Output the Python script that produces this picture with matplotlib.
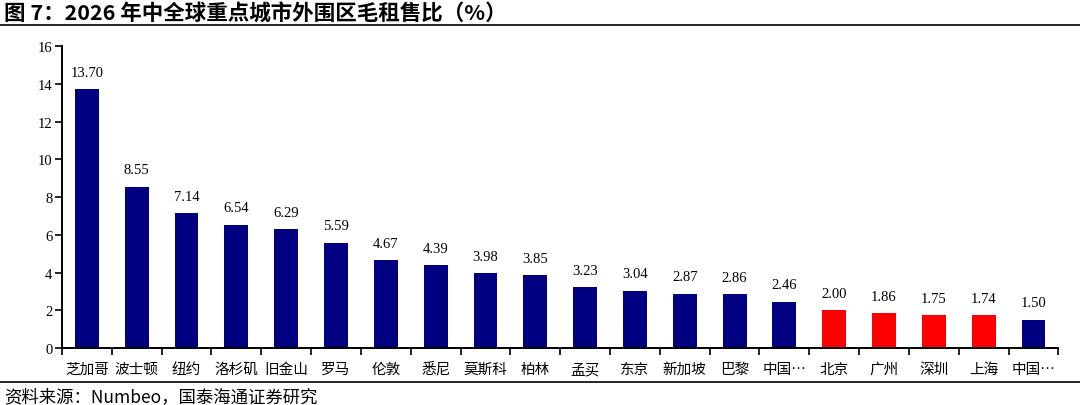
import matplotlib
matplotlib.use("Agg")
import matplotlib.pyplot as plt
from matplotlib.lines import Line2D
import numpy as np

cities = ["芝加哥", "波士顿", "纽约", "洛杉矶", "旧金山", "罗马", "伦敦", "悉尼", "莫斯科", "柏林",
          "孟买", "东京", "新加坡", "巴黎", "中国…", "北京", "广州", "深圳", "上海", "中国…"]
ratios = [13.70, 8.55, 7.14, 6.54, 6.29, 5.59, 4.67, 4.39, 3.98, 3.85,
          3.23, 3.04, 2.87, 2.86, 2.46, 2.00, 1.86, 1.75, 1.74, 1.50]
highlight = ["北京", "广州", "深圳", "上海"]

NAVY = "#000080"
RED = "#FF0000"
CJK = ["Noto Sans CJK SC", "DejaVu Sans"]
SERIF = ["Liberation Serif", "Noto Sans CJK SC"]

fig = plt.figure(figsize=(10.8, 4.06), dpi=100)
ax = fig.add_axes([0.0574, 0.1404, 0.9226, 0.7436])

x = np.arange(len(cities))
colors = [RED if c in highlight else NAVY for c in cities]
ax.bar(x, ratios, width=0.48, color=colors, zorder=2)

for xi, v in zip(x, ratios):
    ax.text(xi, v + 0.55, f"{v:.2f}", ha="center", va="bottom",
            fontsize=10.5, family=SERIF)

ax.set_xlim(-0.5, len(cities) - 0.5)
ax.set_ylim(0, 16)
ax.set_yticks(range(0, 17, 2))
ax.set_yticklabels([str(t) for t in range(0, 17, 2)], family=SERIF, fontsize=10.5)

# category labels centred, tick marks on boundaries
ax.set_xticks(np.arange(-0.5, len(cities), 1.0))
ax.set_xticklabels([])
ax.tick_params(axis="x", direction="out", length=5, width=1.2)
ax.tick_params(axis="y", direction="out", length=5, width=1.2, pad=2)
for xi, c in zip(x, cities):
    ax.text(xi, -0.75, c, ha="center", va="top", fontsize=10.5, family=CJK,
            transform=ax.transData)

for side in ["top", "right"]:
    ax.spines[side].set_visible(False)
for side in ["left", "bottom"]:
    ax.spines[side].set_linewidth(1.4)

fig.text(0.004, 0.966, "图 7：2026 年中全球重点城市外围区毛租售比（%）",
         ha="left", va="center", fontsize=15.5, fontweight="bold", family=CJK)
fig.add_artist(Line2D([0.0, 1.0], [0.936, 0.936], color="black", lw=1.2,
                      transform=fig.transFigure))
fig.add_artist(Line2D([0.0, 1.0], [0.057, 0.057], color="black", lw=1.2,
                      transform=fig.transFigure))
fig.text(0.004, 0.022, "资料来源：Numbeo，国泰海通证券研究",
         ha="left", va="center", fontsize=12.5, family=CJK)

fig.savefig("out.png", dpi=100)
